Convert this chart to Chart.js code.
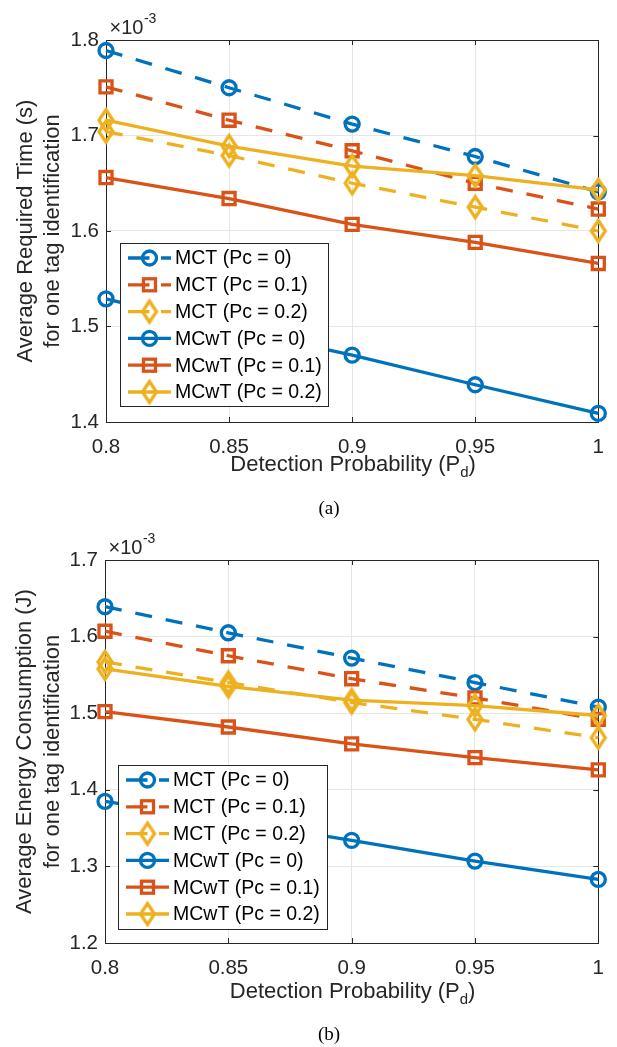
<!DOCTYPE html>
<html>
<head>
<meta charset="utf-8">
<title>Tag identification time and energy vs. detection probability</title>
<script src="https://cdn.jsdelivr.net/npm/chart.js@4.4.0/dist/chart.umd.min.js"></script>
<style>
  html, body { margin: 0; padding: 0; background: #fff; }
  #wrap { position: relative; width: 617px; height: 1047px; }
  canvas { position: absolute; left: 0; }
</style>
</head>
<body>
<div id="wrap">
  <canvas id="timeChart" width="617" height="525" style="top:0"></canvas>
  <canvas id="energyChart" width="617" height="522" style="top:525px"></canvas>
</div>
<script>
// x axis: detection probability
const detectionProb = [0.8, 0.85, 0.9, 0.95, 1];
const xTicks = [0.8, 0.85, 0.9, 0.95, 1];

// (a) average required time for one tag identification, x 10^-3 s
const timeMctPc0   = [1.789, 1.750, 1.712, 1.678, 1.641];
const timeMctPc01  = [1.751, 1.716, 1.684, 1.650, 1.623];
const timeMctPc02  = [1.704, 1.679, 1.650, 1.625, 1.600];
const timeMcwtPc0  = [1.529, 1.498, 1.470, 1.439, 1.409];
const timeMcwtPc01 = [1.656, 1.634, 1.607, 1.588, 1.566];
const timeMcwtPc02 = [1.716, 1.689, 1.668, 1.658, 1.643];
const timeTicks = [1.4, 1.5, 1.6, 1.7, 1.8];

// (b) average energy consumption for one tag identification, x 10^-3 J
const energyMctPc0   = [1.639, 1.605, 1.572, 1.540, 1.508];
const energyMctPc01  = [1.607, 1.575, 1.545, 1.520, 1.492];
const energyMctPc02  = [1.567, 1.540, 1.514, 1.492, 1.468];
const energyMcwtPc0  = [1.385, 1.360, 1.334, 1.307, 1.283];
const energyMcwtPc01 = [1.502, 1.482, 1.460, 1.442, 1.426];
const energyMcwtPc02 = [1.558, 1.535, 1.517, 1.510, 1.497];
const energyTicks = [1.2, 1.3, 1.4, 1.5, 1.6, 1.7];

const seriesNames = ['MCT (Pc = 0)', 'MCT (Pc = 0.1)', 'MCT (Pc = 0.2)',
                     'MCwT (Pc = 0)', 'MCwT (Pc = 0.1)', 'MCwT (Pc = 0.2)'];

const BLUE = '#0072BD', RED = '#D95319', YELLOW = '#EDB120';
const AXIS = '#262626';
const SANS = '"Liberation Sans", Arial, Helvetica, sans-serif';
const LW = 3.3;

// open diamond marker (taller than wide), used as a point style image
function diamondImage(color) {
  const c = document.createElement('canvas');
  c.width = 22; c.height = 30;
  const g = c.getContext('2d');
  g.strokeStyle = color;
  g.lineWidth = LW;
  g.beginPath();
  g.moveTo(11, 4.5); g.lineTo(18, 15); g.lineTo(11, 25.5); g.lineTo(4, 15);
  g.closePath();
  g.stroke();
  return c;
}
const yellowDiamond = diamondImage(YELLOW);

const seriesStyle = [
  { color: BLUE,   marker: 'circle',  dashed: true },
  { color: RED,    marker: 'rect',    dashed: true },
  { color: YELLOW, marker: 'diamond', dashed: true },
  { color: BLUE,   marker: 'circle',  dashed: false },
  { color: RED,    marker: 'rect',    dashed: false },
  { color: YELLOW, marker: 'diamond', dashed: false }
];

function drawMarker(ctx, kind, color, x, y) {
  ctx.save();
  ctx.strokeStyle = color;
  ctx.lineWidth = LW;
  if (kind === 'circle') {
    ctx.beginPath(); ctx.arc(x, y, 7, 0, Math.PI * 2); ctx.stroke();
  } else if (kind === 'rect') {
    ctx.strokeRect(x - 6, y - 6, 12, 12);
  } else {
    ctx.drawImage(yellowDiamond, x - yellowDiamond.width / 2, y - yellowDiamond.height / 2);
  }
  ctx.restore();
}

// axes box, inward ticks, titles, exponent and legend
const matlabFrame = {
  id: 'matlabFrame',
  beforeDatasetsDraw(chart) {
    const ctx = chart.ctx, a = chart.chartArea;
    const xs = chart.scales.x, ys = chart.scales.y;
    ctx.save();
    ctx.strokeStyle = AXIS;
    ctx.lineWidth = 1;
    ctx.beginPath();
    xs.ticks.forEach(t => {
      const p = Math.round(xs.getPixelForValue(t.value)) + 0.5;
      ctx.moveTo(p, a.bottom); ctx.lineTo(p, a.bottom - 5);
      ctx.moveTo(p, a.top); ctx.lineTo(p, a.top + 5);
    });
    ys.ticks.forEach(t => {
      const p = Math.round(ys.getPixelForValue(t.value)) + 0.5;
      ctx.moveTo(a.left, p); ctx.lineTo(a.left + 5, p);
      ctx.moveTo(a.right, p); ctx.lineTo(a.right - 5, p);
    });
    ctx.stroke();
    ctx.strokeRect(Math.round(a.left) + 0.5, Math.round(a.top) + 0.5,
                   Math.round(a.right - a.left), Math.round(a.bottom - a.top));
    ctx.restore();
  },
  afterDraw(chart, args, o) {
    const ctx = chart.ctx, a = chart.chartArea;
    ctx.save();
    ctx.fillStyle = AXIS;

    // y axis title, two lines
    const cy = (a.top + a.bottom) / 2;
    ctx.font = '22px ' + SANS;
    ctx.textAlign = 'center';
    ctx.textBaseline = 'middle';
    o.yTitle.forEach((line, i) => {
      ctx.save();
      ctx.translate(o.yTitleX[i], cy);
      ctx.rotate(-Math.PI / 2);
      ctx.fillText(line, 0, 0);
      ctx.restore();
    });

    // x axis title with subscript d
    const main = 'Detection Probability (P', sub = 'd', tail = ')';
    ctx.font = '22px ' + SANS;
    const w1 = ctx.measureText(main).width, w3 = ctx.measureText(tail).width;
    ctx.font = '15px ' + SANS;
    const w2 = ctx.measureText(sub).width;
    let x = (a.left + a.right) / 2 + 1 - (w1 + w2 + w3) / 2;
    ctx.textAlign = 'left';
    ctx.font = '22px ' + SANS;
    ctx.fillText(main, x, o.xTitleY);
    ctx.font = '15px ' + SANS;
    ctx.fillText(sub, x + w1, o.xTitleY + 8);
    ctx.font = '22px ' + SANS;
    ctx.fillText(tail, x + w1 + w2, o.xTitleY);

    // exponent above the y axis
    ctx.font = '20px ' + SANS;
    ctx.fillText('\u00d710', a.left + 3.5, a.top - 12);
    const wx = ctx.measureText('\u00d710').width;
    ctx.font = '14px ' + SANS;
    ctx.fillText('-3', a.left + 3.5 + wx + 0.5, a.top - 21);

    // panel tag
    ctx.fillStyle = '#000';
    ctx.font = '19px "Liberation Serif", "Times New Roman", serif';
    ctx.textAlign = 'center';
    ctx.fillText(o.tag, 329, o.tagY);

    // legend
    const L = o.legend;
    ctx.fillStyle = '#fff';
    ctx.fillRect(L.x, L.y, L.w, L.h);
    ctx.strokeStyle = AXIS;
    ctx.lineWidth = 1;
    ctx.strokeRect(L.x + 0.5, L.y + 0.5, L.w, L.h);
    chart.data.datasets.forEach((ds, i) => {
      const s = seriesStyle[i];
      const ry = L.y + 15 + i * 26.8;
      const x0 = L.x + 8, x1 = L.x + 51, mx = L.x + 29.5;
      ctx.save();
      ctx.strokeStyle = s.color;
      ctx.lineWidth = LW;
      ctx.beginPath();
      if (s.dashed) {
        ctx.moveTo(x0, ry); ctx.lineTo(mx, ry);
        ctx.moveTo(x1 - 10, ry); ctx.lineTo(x1, ry);
      } else {
        ctx.moveTo(x0, ry); ctx.lineTo(x1, ry);
      }
      ctx.stroke();
      ctx.restore();
      drawMarker(ctx, s.marker, s.color, mx, ry);
      ctx.fillStyle = '#000';
      ctx.font = '19.5px ' + SANS;
      ctx.textAlign = 'left';
      ctx.textBaseline = 'middle';
      ctx.fillText(ds.label, L.x + 55, ry + 1);
    });
    ctx.restore();
  }
};

function makeDatasets(series) {
  return series.map((vals, i) => {
    const s = seriesStyle[i];
    return {
      label: seriesNames[i],
      data: detectionProb.map((p, k) => ({ x: p, y: vals[k] })),
      borderColor: s.color,
      borderWidth: LW,
      borderDash: s.dashed ? [17, 14] : [],
      pointStyle: s.marker === 'diamond' ? yellowDiamond : s.marker,
      pointRadius: s.marker === 'rect' ? 8.5 : 7,
      pointBorderWidth: LW,
      pointBorderColor: s.color,
      pointBackgroundColor: 'rgba(255,255,255,0)',
      tension: 0,
      clip: false,
      order: series.length - i
    };
  });
}

function makeChart(id, series, yTicks, box, deco) {
  return new Chart(document.getElementById(id), {
    type: 'line',
    data: { datasets: makeDatasets(series) },
    plugins: [matlabFrame],
    options: {
      responsive: false,
      animation: false,
      events: [],
      layout: { padding: { left: 0, right: box.padRight, top: box.padTop, bottom: 0 } },
      plugins: {
        legend: { display: false },
        tooltip: { enabled: false },
        matlabFrame: deco
      },
      scales: {
        x: {
          type: 'linear',
          min: xTicks[0],
          max: xTicks[xTicks.length - 1],
          afterBuildTicks: s => { s.ticks = xTicks.map(v => ({ value: v })); },
          afterFit: s => { s.height = box.xHeight; },
          grid: { color: '#e6e6e6', lineWidth: 1, drawTicks: false },
          border: { display: false },
          ticks: {
            padding: 13,
            maxRotation: 0,
            autoSkip: false,
            color: AXIS,
            font: { family: SANS, size: 20.5 },
            callback: v => String(parseFloat(v.toFixed(2)))
          }
        },
        y: {
          min: yTicks[0],
          max: yTicks[yTicks.length - 1],
          afterBuildTicks: s => { s.ticks = yTicks.map(v => ({ value: v })); },
          afterFit: s => { s.width = box.yWidth; },
          grid: { color: '#e6e6e6', lineWidth: 1, drawTicks: false },
          border: { display: false },
          ticks: {
            padding: 7,
            color: AXIS,
            font: { family: SANS, size: 20.5 },
            callback: v => v.toFixed(1)
          }
        }
      }
    }
  });
}

makeChart('timeChart',
  [timeMctPc0, timeMctPc01, timeMctPc02, timeMcwtPc0, timeMcwtPc01, timeMcwtPc02],
  timeTicks,
  { padTop: 40, padRight: 18, yWidth: 106, xHeight: 103 },
  {
    yTitle: ['Average Required Time (s)', 'for one tag identification'],
    yTitleX: [26, 53],
    xTitleY: 465,
    tag: '(a)',
    tagY: 509,
    legend: { x: 120, y: 243, w: 208, h: 163 }
  });

makeChart('energyChart',
  [energyMctPc0, energyMctPc01, energyMctPc02, energyMcwtPc0, energyMcwtPc01, energyMcwtPc02],
  energyTicks,
  { padTop: 35, padRight: 14, yWidth: 105, xHeight: 104 },
  {
    yTitle: ['Average Energy Consumption (J)', 'for one tag identification'],
    yTitleX: [25, 53],
    xTitleY: 467,
    tag: '(b)',
    tagY: 510,
    legend: { x: 118, y: 240, w: 209, h: 164 }
  });
</script>
</body>
</html>
